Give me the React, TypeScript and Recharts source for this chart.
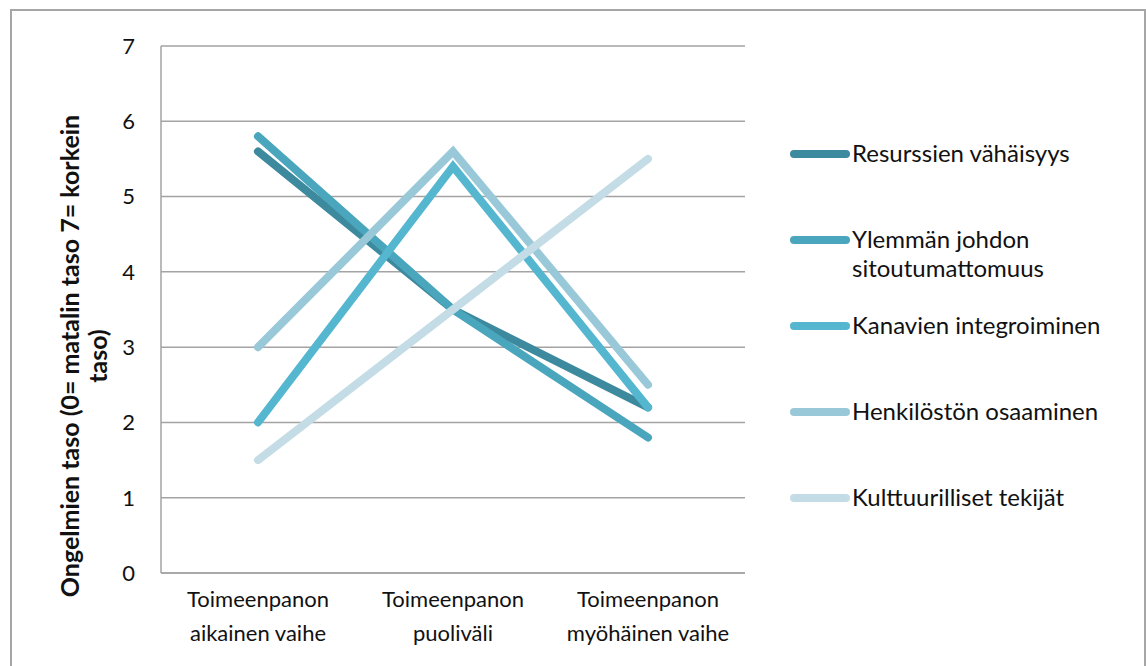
import { LineChart, Line, XAxis, YAxis, CartesianGrid } from "recharts";

const categories = [
  "Toimeenpanon aikainen vaihe",
  "Toimeenpanon puoliväli",
  "Toimeenpanon myöhäinen vaihe",
];
const resurssit = [5.6, 3.5, 2.2];
const ylemmanJohdon = [5.8, 3.5, 1.8];
const kanavat = [2, 5.4, 2.2];
const henkilosto = [3, 5.6, 2.5];
const kulttuuri = [1.5, 3.5, 5.5];
const yTicks = [0, 1, 2, 3, 4, 5, 6, 7];

const series = [
  { key: "Resurssien vähäisyys", values: resurssit, color: "#3d8a9e" },
  { key: "Ylemmän johdon sitoutumattomuus", values: ylemmanJohdon, color: "#4aa6bd" },
  { key: "Kanavien integroiminen", values: kanavat, color: "#55b7cf" },
  { key: "Henkilöstön osaaminen", values: henkilosto, color: "#99c9d9" },
  { key: "Kulttuurilliset tekijät", values: kulttuuri, color: "#c3dce5" },
];

const data = categories.map((name, i) => {
  const row: Record<string, string | number> = { name };
  series.forEach((s) => (row[s.key] = s.values[i]));
  return row;
});

const FONT = "Lato, 'Open Sans', sans-serif";
const GRID = "#a3a3a3";

function XTick({ x, y, payload }: any) {
  const words = String(payload.value).split(" ");
  const lines = [words[0], words.slice(1).join(" ")];
  return (
    <text x={x} y={y} textAnchor="middle" fontSize={22} fill="#111" fontFamily={FONT}>
      {lines.map((l, i) => (
        <tspan key={i} x={x} dy={i === 0 ? 34 : 34}>
          {l}
        </tspan>
      ))}
    </text>
  );
}

function YLabel() {
  return (
    <text
      transform="translate(84, 356) rotate(-90)"
      textAnchor="middle"
      fontSize={25}
      fontWeight="bold"
      fill="#111"
      fontFamily={FONT}
    >
      <tspan x={0} dy={-5}>Ongelmien taso (0= matalin taso 7= korkein</tspan>
      <tspan x={0} dy={28}>taso)</tspan>
    </text>
  );
}

function LegendBox() {
  return (
    <div style={{ position: "absolute", left: 790, top: 138, fontFamily: FONT }}>
      {series.map((s) => (
        <div key={s.key} style={{ display: "flex", alignItems: "flex-start", height: 86 }}>
          <div
            style={{
              width: 60,
              height: 8,
              borderRadius: 4,
              background: s.color,
              marginTop: 12,
              marginRight: 2,
              flexShrink: 0,
            }}
          />
          <div style={{ fontSize: 24, lineHeight: "29px", color: "#111", width: 262 }}>{s.key}</div>
        </div>
      ))}
    </div>
  );
}

export default function App() {
  return (
    <div
      style={{
        position: "fixed",
        left: 0,
        top: 0,
        width: 1146,
        height: 666,
        overflow: "hidden",
        background: "#fff",
      }}
    >
      <div
        style={{
          position: "absolute",
          left: 10,
          top: 9,
          width: 1132,
          height: 700,
          border: "2px solid #a6a6a6",
        }}
      />
      <div style={{ position: "absolute", left: 0, top: 0 }}>
        <LineChart
          width={1146}
          height={666}
          data={data}
          margin={{ top: 46, right: 401, bottom: 0, left: 0 }}
        >
          <CartesianGrid vertical={false} stroke={GRID} strokeWidth={1.5} />
          <XAxis
            dataKey="name"
            padding={{ left: 97, right: 97 }}
            tickLine={false}
            tickSize={0}
            tickMargin={0}
            axisLine={{ stroke: GRID, strokeWidth: 1.5 }}
            tick={<XTick />}
            interval={0}
            height={93}
          />
          <YAxis
            width={161}
            domain={[0, 7]}
            ticks={yTicks}
            interval={0}
            tickLine={false}
            tickSize={0}
            tickMargin={26}
            axisLine={{ stroke: GRID, strokeWidth: 1.5 }}
            tick={{ fontSize: 22, fill: "#111", fontFamily: FONT }}
            label={{ content: () => <YLabel /> }}
          />
          {series.map((s) => (
            <Line
              key={s.key}
              dataKey={s.key}
              type="linear"
              stroke={s.color}
              strokeWidth={8}
              strokeLinecap="round"
              dot={false}
              activeDot={false}
              isAnimationActive={false}
            />
          ))}
        </LineChart>
      </div>
      <LegendBox />
    </div>
  );
}
